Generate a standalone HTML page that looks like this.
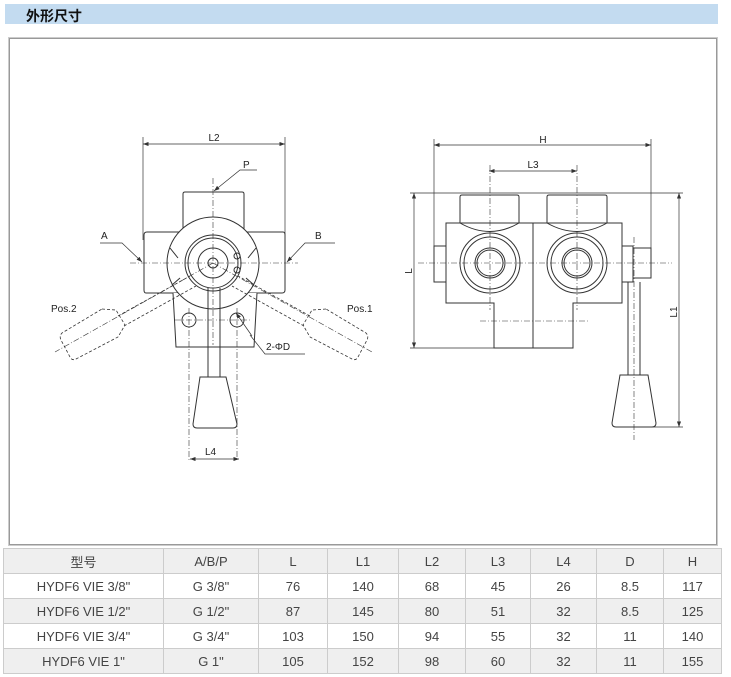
<!DOCTYPE html>
<html><head><meta charset="utf-8"><style>
body{margin:0;width:731px;height:677px;background:#fff;position:relative;overflow:hidden;font-family:"Liberation Sans","Noto Sans CJK SC",sans-serif}
.hdr{position:absolute;left:5px;top:4px;width:713px;height:20px;background:#c3dbf0}
.hdr span{position:absolute;left:21px;top:2px;font-size:14px;font-weight:bold;color:#111}
.frame{position:absolute;left:9px;top:38px;width:706px;height:505px;border:1px solid #999;box-shadow:0 0 0 1px #ccc}
table{position:absolute;left:3px;top:548px;width:719px;border-collapse:collapse;font-size:13px;color:#444}
td{border:1px solid #ccc;height:24px;padding:0;text-align:center}
tr.g td{background:#efefef}
svg{position:absolute;left:0;top:0}
</style></head><body>
<div class="hdr"><span>外形尺寸</span></div>
<div class="frame"></div>
<svg width="731" height="677" viewBox="0 0 731 677" font-family="Liberation Sans, sans-serif" font-size="10" fill="none" stroke="#333" stroke-width="1">
<defs><marker id="a" markerWidth="8" markerHeight="6" refX="8" refY="3" orient="auto-start-reverse"><path d="M0,0 L8,3 L0,6z" fill="#333" stroke="none"/></marker></defs>
<!-- LEFT VIEW -->
<g stroke-width="0.7">
<line x1="143" y1="137" x2="143" y2="240"/><line x1="285" y1="137" x2="285" y2="240"/>
<line x1="143" y1="144" x2="285" y2="144" marker-start="url(#a)" marker-end="url(#a)"/>
</g>
<text x="214" y="141" fill="#222" stroke="none" text-anchor="middle">L2</text>
<path d="M183,232 V194 Q183,192 185,192 H242 Q244,192 244,194 V232 H283 Q285,232 285,235 V290 Q285,293 282,293 H146 Q144,293 144,290 V235 Q144,232 147,232 Z" fill="#fff"/>
<path d="M173,293 L176,347 H254 L257,293" fill="#fff"/>
<circle cx="189" cy="320" r="7"/><circle cx="237" cy="320" r="7"/>
<circle cx="213" cy="263" r="46" fill="#fff"/>
<path d="M170,248 L178,258 M256,248 L248,258 M172,285 L180,278 M254,285 L246,278"/>
<circle cx="213" cy="263" r="28"/><circle cx="213" cy="263" r="25"/>
<circle cx="213" cy="263" r="15"/><circle cx="213" cy="263" r="5"/>
<circle cx="237" cy="256" r="3"/><circle cx="237" cy="270" r="3"/>
<path d="M208,288 V377 M220,288 V377"/>
<path d="M200,377 H226 L237,424 Q237,428 233,428 H197 Q193,428 193,424 Z" fill="#fff"/>
<g stroke-dasharray="6,2,1,2" stroke-width="0.6">
<line x1="213" y1="178" x2="213" y2="345"/><line x1="130" y1="263" x2="298" y2="263"/>
<line x1="189" y1="308" x2="189" y2="460"/><line x1="237" y1="308" x2="237" y2="460"/>
<line x1="175" y1="320" x2="250" y2="320"/>
<line x1="213" y1="263" x2="55" y2="352"/><line x1="213" y1="263" x2="372" y2="352"/>
</g>
<g stroke-dasharray="3,2" stroke-width="0.8">
<path d="M118,316 L190,276 M124,326 L196,286"/>
<path d="M310,316 L238,276 M304,326 L232,286"/>
<path d="M102,309 L116,310 L125,325 L118,337 L76,359 Q72,361 70,357 L61,340 Q59,336 62,333 Z"/>
<path d="M326,309 L312,310 L303,325 L310,337 L352,359 Q356,361 358,357 L367,340 Q369,336 366,333 Z"/>
</g>
<g stroke-width="0.7">
<line x1="190" y1="459" x2="239" y2="459" marker-start="url(#a)" marker-end="url(#a)"/>
<path d="M100,243 H122 L142,262" marker-end="url(#a)"/>
<path d="M335,243 H305 L287,262" marker-end="url(#a)"/>
<path d="M257,170 H240 L214,191" marker-end="url(#a)"/>
<path d="M305,354 H265 L250,335"/>
<line x1="236" y1="313" x2="252" y2="336" marker-start="url(#a)"/>
</g>
<g fill="#222" stroke="none">
<text x="101" y="239">A</text><text x="315" y="239">B</text><text x="243" y="168">P</text>
<text x="51" y="312">Pos.2</text><text x="347" y="312">Pos.1</text>
<text x="266" y="350">2-ΦD</text><text x="205" y="455">L4</text>
</g>
<!-- RIGHT VIEW -->
<g stroke-width="0.7">
<line x1="434" y1="139" x2="434" y2="246"/><line x1="651" y1="139" x2="651" y2="248"/>
<line x1="434" y1="145" x2="651" y2="145" marker-start="url(#a)" marker-end="url(#a)"/>
<line x1="489" y1="171" x2="577" y2="171" marker-start="url(#a)" marker-end="url(#a)"/>
<line x1="410" y1="193" x2="683" y2="193"/><line x1="410" y1="348" x2="494" y2="348"/>
<line x1="634" y1="427" x2="683" y2="427"/>
<line x1="414" y1="193" x2="414" y2="348" marker-start="url(#a)" marker-end="url(#a)"/>
<line x1="679" y1="193" x2="679" y2="427" marker-start="url(#a)" marker-end="url(#a)"/>
</g>
<g fill="#222" stroke="none">
<text x="543" y="143" text-anchor="middle">H</text><text x="533" y="168" text-anchor="middle">L3</text>
<text x="412" y="271" transform="rotate(-90 412 271)" text-anchor="middle">L</text>
<text x="677" y="312" transform="rotate(-90 677 312)" text-anchor="middle">L1</text>
</g>
<path d="M460,223 V197 Q460,195 462,195 H517 Q519,195 519,197 V223 M547,223 V197 Q547,195 549,195 H605 Q607,195 607,197 V223" fill="#fff"/>
<path d="M446,223 H622 V246 H633 V282 H622 V303 H573 V348 H494 V303 H446 V282 H434 V246 H446 Z" fill="#fff"/>
<path d="M460,223 Q490,240 519,223 M547,223 Q577,240 607,223 M533,223 V348 M446,246 V282 M622,246 V282"/>
<rect x="633" y="248" width="18" height="30" fill="#fff"/>
<circle cx="490" cy="263" r="30"/><circle cx="490" cy="263" r="26"/><circle cx="490" cy="263" r="15"/><circle cx="490" cy="263" r="13"/>
<circle cx="577" cy="263" r="30"/><circle cx="577" cy="263" r="26"/><circle cx="577" cy="263" r="15"/><circle cx="577" cy="263" r="13"/>
<path d="M628,282 V375 M640,282 V375"/>
<path d="M620,375 H648 L656,423 Q656,427 652,427 H616 Q612,427 612,423 Z" fill="#fff"/>
<g stroke-dasharray="6,2,1,2" stroke-width="0.6">
<line x1="490" y1="165" x2="490" y2="310"/><line x1="577" y1="165" x2="577" y2="310"/>
<line x1="418" y1="263" x2="672" y2="263"/><line x1="480" y1="321" x2="588" y2="321"/>
<line x1="634" y1="237" x2="634" y2="440"/>
</g>
</svg>
<table>
<tr class="g"><td style="width:159px">型号</td><td style="width:94px">A/B/P</td><td style="width:68px">L</td><td style="width:70px">L1</td><td style="width:66px">L2</td><td style="width:64px">L3</td><td style="width:65px">L4</td><td style="width:66px">D</td><td>H</td></tr>
<tr><td>HYDF6 VIE 3/8"</td><td>G 3/8"</td><td>76</td><td>140</td><td>68</td><td>45</td><td>26</td><td>8.5</td><td>117</td></tr>
<tr class="g"><td>HYDF6 VIE 1/2"</td><td>G 1/2"</td><td>87</td><td>145</td><td>80</td><td>51</td><td>32</td><td>8.5</td><td>125</td></tr>
<tr><td>HYDF6 VIE 3/4"</td><td>G 3/4"</td><td>103</td><td>150</td><td>94</td><td>55</td><td>32</td><td>11</td><td>140</td></tr>
<tr class="g"><td>HYDF6 VIE 1"</td><td>G 1"</td><td>105</td><td>152</td><td>98</td><td>60</td><td>32</td><td>11</td><td>155</td></tr>
</table>
</body></html>
